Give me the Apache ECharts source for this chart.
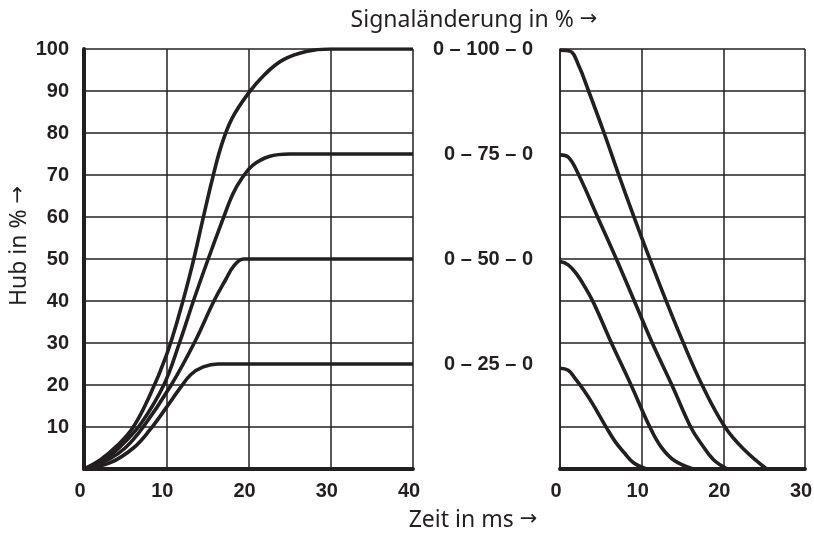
<!DOCTYPE html>
<html><head><meta charset="utf-8">
<script src="https://cdn.jsdelivr.net/npm/echarts@6/dist/echarts.min.js"></script>
<style>html,body{margin:0;padding:0;background:#fff}#c{width:814px;height:534px}</style>
</head><body><div id="c"></div>
<script>
// ---- data ----
const leftXTicks = [0, 10, 20, 30, 40];
const leftYTicks = [10, 20, 30, 40, 50, 60, 70, 80, 90, 100];
const rightXTicks = [0, 10, 20, 30];
const rightLevels = [25, 50, 75, 100];
const rightLevelLabels = ['0 – 25 – 0', '0 – 50 – 0', '0 – 75 – 0', '0 – 100 – 0'];

// Hub (%) vs Zeit (ms), step rise
const rise100 = [[0,0],[2,2.2],[4,5.5],[6,10],[8,17.5],[10,27],[11.6,37],[13.1,48],[14.4,59],[15.6,69],[16.7,77],[18,83.5],[20,89.5],[22,94],[24.2,97.4],[27,99.4],[30,100],[40,100]];
const rise75  = [[0,0],[3,3],[5,6.5],[7,11],[9.7,20],[11.6,30],[13.3,40],[15.1,50],[16.8,59],[18.1,65.5],[19.3,69.5],[20.5,72.3],[22.5,74.4],[25,75],[40,75]];
const rise50  = [[0,0],[3,2.3],[5,5],[7.2,10],[10.6,20],[13.4,30],[15.8,40],[17.2,45],[18.2,48.3],[19.4,50],[40,50]];
const rise25  = [[0,0],[3.2,1.5],[6,5],[8,9.3],[10,14.6],[11.7,19.3],[13,22.5],[14.5,24.3],[16.3,25],[40,25]];

// step fall
const fall100 = [[0,99.7],[1.2,99.5],[2.3,96],[3.5,90],[5.4,80],[7.2,70],[9,60.3],[10.9,50.5],[12.9,40.5],[15,30.5],[17.4,20],[20.2,10],[22.6,4.5],[25.3,0]];
const fall75  = [[0,74.8],[1,74.3],[2.2,70.4],[4.6,60],[6.9,50],[9.1,40],[11.3,30],[13.7,20],[16,10],[17.3,6],[18.8,2.2],[20.5,0]];
const fall50  = [[0,49.4],[1,48.6],[2,46.5],[3,43.5],[4.2,39.2],[6.3,30],[8.7,20],[11,10],[12.4,5.2],[14,2],[16.3,0]];
const fall25  = [[0,24],[1,23.5],[1.8,21.7],[2.9,18.8],[4,15.5],[5.7,9.8],[6.8,6.4],[7.9,3.8],[9,1.5],[10.6,0]];

// ---- chart ----
const INK = '#231f20';
const labelFont = {
  color: INK, fontWeight: 'bold', fontSize: 20,
  fontFamily: "'Liberation Sans',Arial,sans-serif"
};
const grid = {lineStyle: {color: INK, width: 1.5}};
const titleRich = {
  a: {fontSize: 23, fontFamily: "'Noto Sans',sans-serif", fill: INK, color: INK},
  b: {fontSize: 21, fontFamily: "'DejaVu Sans',sans-serif", fill: INK, color: INK}
};

function curve(data, xi, yi) {
  return {
    type: 'line', data: data, xAxisIndex: xi, yAxisIndex: yi,
    smooth: 0.4, symbol: 'none', silent: true,
    lineStyle: {color: INK, width: 3.6}, z: 5
  };
}
function title(text, x, y, rot) {
  return {type: 'text', x: x, y: y, rotation: rot || 0,
    style: {text: '{a|' + text + ' }{b|→}', rich: titleRich, align: 'center', verticalAlign: 'middle', fill: INK}};
}

const chart = echarts.init(document.getElementById('c'), null, {renderer: 'canvas'});
chart.setOption({
  animation: false,
  backgroundColor: '#fff',
  grid: [
    {left: 84, width: 329, top: 49, height: 420, outerBoundsMode: 'none', containLabel: false},
    {left: 560, width: 245, top: 49, height: 420, outerBoundsMode: 'none', containLabel: false}
  ],
  xAxis: [
    {gridIndex: 0, type: 'value', min: leftXTicks[0], max: leftXTicks[leftXTicks.length-1], interval: 10,
     axisLine: {onZero: false, lineStyle: {color: INK, width: 4}}, axisTick: {show: false},
     splitLine: Object.assign({show: true}, grid),
     axisLabel: Object.assign({margin: 12, padding: [0, 8, 0, 0],
       formatter: v => leftXTicks.includes(v) ? String(v) : ''}, labelFont)},
    {gridIndex: 1, type: 'value', min: rightXTicks[0], max: rightXTicks[rightXTicks.length-1], interval: 10,
     axisLine: {onZero: false, lineStyle: {color: INK, width: 4}}, axisTick: {show: false},
     splitLine: Object.assign({show: true}, grid),
     axisLabel: Object.assign({margin: 12, padding: [0, 8, 0, 0],
       formatter: v => rightXTicks.includes(v) ? String(v) : ''}, labelFont)}
  ],
  yAxis: [
    {gridIndex: 0, type: 'value', position: 'left', min: 0, max: 100, interval: 10,
     axisLine: {show: true, onZero: false, lineStyle: {color: INK, width: 4}}, axisTick: {show: false},
     splitLine: Object.assign({show: true}, grid),
     axisLabel: Object.assign({margin: 15, formatter: v => leftYTicks.includes(v) ? String(v) : ''}, labelFont)},
    {gridIndex: 1, type: 'value', position: 'left', min: 0, max: 100, interval: 10,
     axisLine: {show: true, onZero: false, lineStyle: {color: INK, width: 1.5}}, axisTick: {show: false},
     splitLine: Object.assign({show: true}, grid),
     axisLabel: {show: false}},
    {gridIndex: 1, type: 'value', position: 'left', min: 0, max: 100, interval: 25,
     axisLine: {show: false, onZero: false}, axisTick: {show: false}, splitLine: {show: false},
     axisLabel: Object.assign({margin: 27, formatter: v => {
       const i = rightLevels.indexOf(v); return i >= 0 ? rightLevelLabels[i] : '';
     }}, labelFont)}
  ],
  series: [
    curve(rise100, 0, 0), curve(rise75, 0, 0), curve(rise50, 0, 0), curve(rise25, 0, 0),
    curve(fall100, 1, 1), curve(fall75, 1, 1), curve(fall50, 1, 1), curve(fall25, 1, 1)
  ],
  graphic: [
    title('Signaländerung in %', 474, 20),
    title('Zeit in ms', 473, 520),
    title('Hub in %', 19, 246, Math.PI / 2)
  ]
});
</script></body></html>
